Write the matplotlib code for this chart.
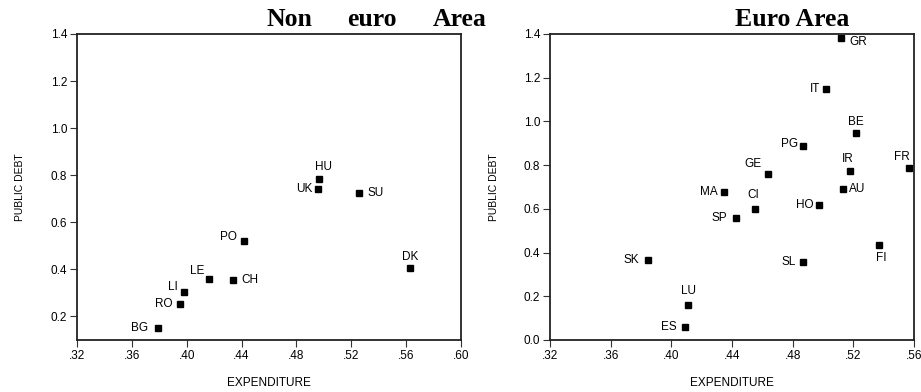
import matplotlib
matplotlib.use("Agg")
from matplotlib import pyplot as plt
from matplotlib.ticker import FuncFormatter

# Non euro area countries
non_names = ['HU', 'UK', 'SU', 'PO', 'DK', 'LE', 'CH', 'LI', 'RO', 'BG']
non_exp = [0.4965, 0.496, 0.5257, 0.4416, 0.5627, 0.416, 0.4336, 0.3983, 0.3954, 0.3791]
non_debt = [0.785, 0.743, 0.724, 0.521, 0.407, 0.359, 0.354, 0.304, 0.251, 0.152]

# Euro area countries
euro_names = ['GR', 'IT', 'BE', 'PG', 'FR', 'IR', 'GE', 'MA', 'AU', 'CI',
              'HO', 'SP', 'FI', 'SK', 'SL', 'LU', 'ES']
euro_exp = [0.5116, 0.5021, 0.5215, 0.487, 0.5565, 0.5176, 0.4637, 0.4347, 0.5129,
            0.4549, 0.4973, 0.4424, 0.5369, 0.3844, 0.4868, 0.4112, 0.4088]
euro_debt = [1.380, 1.150, 0.946, 0.888, 0.787, 0.773, 0.761, 0.676, 0.691,
             0.598, 0.616, 0.557, 0.433, 0.368, 0.357, 0.162, 0.060]

non_xticks = [0.32, 0.36, 0.40, 0.44, 0.48, 0.52, 0.56, 0.60]
euro_xticks = [0.32, 0.36, 0.40, 0.44, 0.48, 0.52, 0.56]
non_yticks = [0.2, 0.4, 0.6, 0.8, 1.0, 1.2, 1.4]
euro_yticks = [0.0, 0.2, 0.4, 0.6, 0.8, 1.0, 1.2, 1.4]

# label placement: (dx, dy) in pixels, ha
non_lab = {'HU': (4, 12, 'center'), 'UK': (-6, 0, 'right'), 'SU': (8, 0, 'left'),
           'PO': (-7, 4, 'right'), 'DK': (0, 11, 'center'), 'LE': (-4, 8, 'right'),
           'CH': (9, 0, 'left'), 'LI': (-7, 5, 'right'), 'RO': (-8, 0, 'right'),
           'BG': (-10, 0, 'right')}
euro_lab = {'GR': (9, -4, 'left'), 'IT': (-6, 0, 'right'), 'BE': (0, 11, 'center'),
            'PG': (-5, 2, 'right'), 'FR': (-7, 11, 'center'), 'IR': (-2, 12, 'center'),
            'GE': (-15, 10, 'center'), 'MA': (-6, 0, 'right'), 'AU': (6, 0, 'left'),
            'CI': (-1, 14, 'center'), 'HO': (-5, 0, 'right'), 'SP': (-9, 0, 'right'),
            'FI': (2, -13, 'center'), 'SK': (-9, 0, 'right'), 'SL': (-7, 0, 'right'),
            'LU': (0, 14, 'center'), 'ES': (-8, 0, 'right')}

plt.rcParams['font.family'] = ['Liberation Sans', 'DejaVu Sans']

fig = plt.figure(figsize=(9.21, 3.92), dpi=100)
W, H = 921, 392
ax1 = fig.add_axes([77 / W, 1 - 340 / H, 384 / W, 306 / H])
ax2 = fig.add_axes([550 / W, 1 - 340 / H, 364 / W, 306 / H])


def fmt_x(v, pos):
    return ('%.2f' % v)[1:]


def draw(ax, names, xs, ys, labs, xlim, ylim, xt, yt, ylab_x):
    ax.plot(xs, ys, 's', color='black', ms=3.8, mec='black')
    for n, x, y in zip(names, xs, ys):
        dx, dy, ha = labs[n]
        ax.annotate(n, (x, y), xytext=(dx, dy), textcoords='offset pixels',
                    ha=ha, va='center', fontsize=8.5)
    ax.set_xlim(xlim)
    ax.set_ylim(ylim)
    ax.set_xticks(xt)
    ax.set_yticks(yt)
    ax.xaxis.set_major_formatter(FuncFormatter(fmt_x))
    ax.yaxis.set_major_formatter(FuncFormatter(lambda v, p: '%.1f' % v))
    ax.tick_params(labelsize=8.5, length=5, width=0.8, pad=2, color='#333333')
    for s in ax.spines.values():
        s.set_linewidth(1.3)
        s.set_color('#222222')
    ax.set_xlabel('EXPENDITURE', fontsize=8.5, va='center')
    ax.set_ylabel('PUBLIC DEBT', fontsize=7.5, va='center')
    ax.xaxis.set_label_coords(0.5, -0.142)
    ax.yaxis.set_label_coords(ylab_x, 0.5)


draw(ax1, non_names, non_exp, non_debt, non_lab, (0.32, 0.60), (0.1, 1.4),
     non_xticks, non_yticks, -0.148)
draw(ax2, euro_names, euro_exp, euro_debt, euro_lab, (0.32, 0.56), (0.0, 1.4),
     euro_xticks, euro_yticks, -0.154)

title_font = dict(family='Liberation Serif', fontweight='bold', fontsize=18.5,
                  va='baseline')
ty = 1 - 26 / H
fig.text(289 / W, ty, 'Non', ha='center', **title_font)
fig.text(372 / W, ty, 'euro', ha='center', **title_font)
fig.text(460 / W, ty, 'Area', ha='center', **title_font)
fig.text(792 / W, ty, 'Euro Area', ha='center', **title_font)

fig.savefig('out.png', dpi=100)
